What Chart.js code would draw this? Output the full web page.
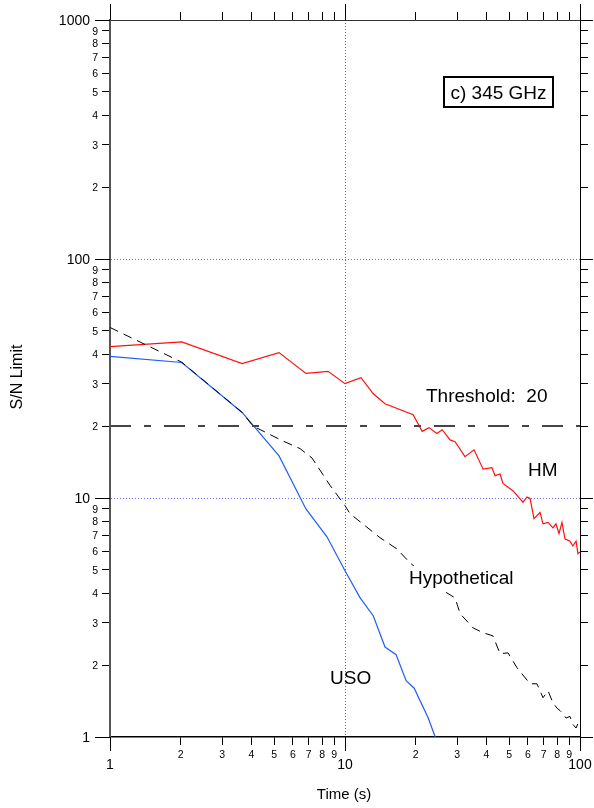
<!DOCTYPE html>
<html>
<head>
<meta charset="utf-8">
<script src="https://cdn.jsdelivr.net/npm/chart.js@4.4.1/dist/chart.umd.min.js"></script>
<style>
  html, body { margin: 0; padding: 0; background: #fff; }
</style>
</head>
<body>
<canvas id="snChart" width="594" height="808"></canvas>
<script>
// tick positions
const timeTicks = [1, 2, 3, 4, 5, 6, 7, 8, 9, 10, 20, 30, 40, 50, 60, 70, 80, 90, 100];
const snTicks = [1, 2, 3, 4, 5, 6, 7, 8, 9, 10, 20, 30, 40, 50, 60, 70, 80, 90,
  100, 200, 300, 400, 500, 600, 700, 800, 900, 1000];
const majorTicks = [1, 10, 100, 1000];

// HM
const hmTime = [1, 2.02, 3.65, 5.24, 6.82, 8.47, 10, 11.7, 13.2, 14.8, 19.5, 21.3, 22.8, 24.6, 25.9,
  28.0, 29.4, 32.4, 35.4, 38.7, 42.2, 43.5, 45.7, 47.0, 51.9, 57.2, 59.5, 61.3, 63.7, 67.6, 69.6,
  73.1, 76.7, 79, 81.4, 83.8, 86.3, 90.6, 93.3, 96.2, 98, 100];
const hmSN = [43, 45, 36.5, 40.6, 33.2, 33.9, 30.1, 31.9, 27.3, 24.8, 22.3, 19.0, 19.7, 18.6, 19.3,
  17.5, 17.2, 14.9, 15.9, 13.2, 13.4, 12.4, 12.6, 11.5, 10.7, 9.6, 10.1, 9.95, 8.2, 8.7, 7.8,
  7.9, 7.5, 7.8, 7.1, 7.9, 6.75, 6.6, 6.3, 6.6, 5.85, 5.95];

// USO
const usoTime = [1, 2.02, 3.65, 5.24, 6.82, 8.38, 10, 11.6, 13.2, 14.8, 16.5, 18.2, 19.7, 22.6, 24.2];
const usoSN = [39.1, 36.9, 22.8, 15.0, 9.0, 6.88, 4.96, 3.82, 3.21, 2.38, 2.21, 1.72, 1.60, 1.20, 1.0];

// Hypothetical
const hypTime = [1, 2.02, 3.65, 4.06, 5.39, 6.43, 7.24, 8.63, 10, 10.5, 14.1, 16.6, 18.9, 25.4, 29.4,
  30.9, 35.1, 38.7, 42.6, 45.7, 49.4, 53.9, 61.3, 65.6, 69.6, 73.1, 76.7, 79.8, 82.2, 84.8,
  87.2, 90.6, 93.3, 96.2, 100];
const hypSN = [51.7, 37, 22.8, 20, 17.4, 16.1, 14.7, 11.3, 9.29, 8.6, 6.82, 6.13, 5.36, 4.17, 3.82,
  3.28, 2.86, 2.73, 2.65, 2.23, 2.25, 1.95, 1.67, 1.67, 1.46, 1.56, 1.39, 1.32, 1.29, 1.25,
  1.2, 1.22, 1.13, 1.09, 1.19];

// threshold
const thresholdTime = [1, 100];
const thresholdSN = [20, 20];

const FONT = '"Liberation Sans", Arial, Helvetica, sans-serif';
Chart.defaults.font.family = FONT;

const toPoints = (xs, ys) => xs.map((x, i) => ({ x: x, y: ys[i] }));
const isMajor = (v) => majorTicks.includes(v);
function tickText(v) {
  if (isMajor(v)) return String(v);
  return String(Math.round(v / Math.pow(10, Math.floor(Math.log10(v) + 1e-9))));
}

function logScale(position, min, max, ticks, extra) {
  return Object.assign({
    type: 'logarithmic',
    position: position,
    min: min,
    max: max,
    afterBuildTicks: (s) => { s.ticks = ticks.map(v => ({ value: v, major: isMajor(v) })); },
    ticks: { display: false },
    grid: { drawOnChartArea: false, tickLength: 8, tickColor: '#000', tickWidth: 1 },
    border: { display: true, color: '#000', width: 1 }
  }, extra);
}

function line(ctx, x1, y1, x2, y2) {
  ctx.beginPath();
  ctx.moveTo(x1, y1);
  ctx.lineTo(x2, y2);
  ctx.stroke();
}

const decorations = {
  id: 'decorations',
  afterDatasetsDraw(chart) {
    const { ctx } = chart;
    ctx.save();
    ctx.font = '19px ' + FONT;
    ctx.fillStyle = '#000';
    ctx.textBaseline = 'alphabetic';
    ctx.textAlign = 'left';
    ctx.fillText('Threshold:  20', 426, 402);
    ctx.fillText('HM', 528, 476);
    ctx.fillStyle = '#fff';
    ctx.fillRect(407, 566, 111, 24);
    ctx.fillStyle = '#000';
    ctx.fillText('Hypothetical', 409, 584);
    ctx.fillText('USO', 330, 684);

    // panel box
    ctx.fillStyle = '#fff';
    ctx.fillRect(444, 77, 109, 30);
    ctx.strokeStyle = '#000';
    ctx.lineWidth = 2;
    ctx.strokeRect(444, 77, 109, 30);
    ctx.fillStyle = '#000';
    ctx.textAlign = 'center';
    ctx.fillText('c) 345 GHz', 498.5, 99);
    ctx.restore();
  },
  afterDraw(chart) {
    const { ctx, chartArea: a } = chart;
    const xs = chart.scales.x, ys = chart.scales.y;
    ctx.save();
    ctx.strokeStyle = '#000';
    ctx.lineWidth = 1;
    // longer major ticks
    majorTicks.forEach(v => {
      if (v <= 100) {
        const px = Math.round(xs.getPixelForValue(v)) + 0.5;
        line(ctx, px, a.bottom, px, a.bottom + 14);
        line(ctx, px, a.top, px, a.top - 16);
      }
      const py = Math.round(ys.getPixelForValue(v)) + 0.5;
      line(ctx, a.left - 15, py, a.left, py);
      line(ctx, a.right, py, a.right + 13, py);
    });

    ctx.fillStyle = '#000';
    // y tick labels
    ctx.textAlign = 'right';
    ctx.textBaseline = 'middle';
    snTicks.forEach(v => {
      const py = ys.getPixelForValue(v);
      if (isMajor(v)) {
        ctx.font = '14px ' + FONT;
        ctx.fillText(tickText(v), a.left - 20, py + 1);
      } else {
        ctx.font = '10.5px ' + FONT;
        ctx.fillText(tickText(v), a.left - 12, py + 1);
      }
    });
    // x tick labels
    ctx.textAlign = 'center';
    timeTicks.forEach(v => {
      const px = xs.getPixelForValue(v);
      if (isMajor(v)) {
        ctx.font = '14px ' + FONT;
        ctx.fillText(tickText(v), px, a.bottom + 28);
      } else {
        ctx.font = '10.5px ' + FONT;
        ctx.fillText(tickText(v), px, a.bottom + 18);
      }
    });

    // axis titles
    ctx.font = '15px ' + FONT;
    ctx.fillText('Time (s)', (a.left + a.right) / 2 - 1, 795);
    ctx.translate(18, 377);
    ctx.rotate(-Math.PI / 2);
    ctx.font = '16px ' + FONT;
    ctx.fillText('S/N Limit', 0, 0);
    ctx.restore();
  }
};

new Chart(document.getElementById('snChart'), {
  type: 'line',
  data: {
    datasets: [
      {
        label: 'Threshold',
        data: toPoints(thresholdTime, thresholdSN),
        borderColor: '#444',
        borderWidth: 2,
        borderDash: [21, 13, 7, 13]
      },
      {
        label: 'Hypothetical',
        data: toPoints(hypTime, hypSN),
        borderColor: '#000',
        borderWidth: 1,
        borderDash: [9, 6]
      },
      {
        label: 'USO',
        data: toPoints(usoTime, usoSN),
        borderColor: '#1f5cff',
        borderWidth: 1.2
      },
      {
        label: 'HM',
        data: toPoints(hmTime, hmSN),
        borderColor: '#ff1010',
        borderWidth: 1.2
      }
    ]
  },
  options: {
    responsive: false,
    animation: false,
    events: [],
    elements: { point: { radius: 0 }, line: { tension: 0 } },
    layout: { padding: 0 },
    plugins: { legend: { display: false }, tooltip: { enabled: false } },
    scales: {
      x: logScale('bottom', 1, 100, timeTicks, {
        afterFit: (s) => { s.height = 71; },
        grid: {
          drawOnChartArea: true, tickLength: 8, tickColor: '#000', tickWidth: 1, lineWidth: 1,
          color: (c) => (c.tick && c.tick.value === 10 ? '#5c5ce8' : 'rgba(0,0,0,0)')
        },
        border: { display: true, color: '#000', width: 1.5, dash: [1, 2] }
      }),
      x2: logScale('top', 1, 100, timeTicks, {
        afterFit: (s) => { s.height = 20; },
        border: { display: true, color: '#333', width: 1 }
      }),
      y: logScale('left', 1, 1000, snTicks, {
        afterFit: (s) => { s.width = 110; },
        grid: {
          drawOnChartArea: true, tickLength: 8, tickColor: '#000', tickWidth: 1, lineWidth: 1,
          color: (c) => (c.tick && (c.tick.value === 10 || c.tick.value === 100) ? '#6f6fff' : 'rgba(0,0,0,0)')
        },
        border: { display: true, color: '#555', width: 2, dash: [1, 2] }
      }),
      y2: logScale('right', 1, 1000, snTicks, {
        afterFit: (s) => { s.width = 14; },
        border: { display: true, color: '#000', width: 1 }
      })
    }
  },
  plugins: [decorations]
});
</script>
</body>
</html>
